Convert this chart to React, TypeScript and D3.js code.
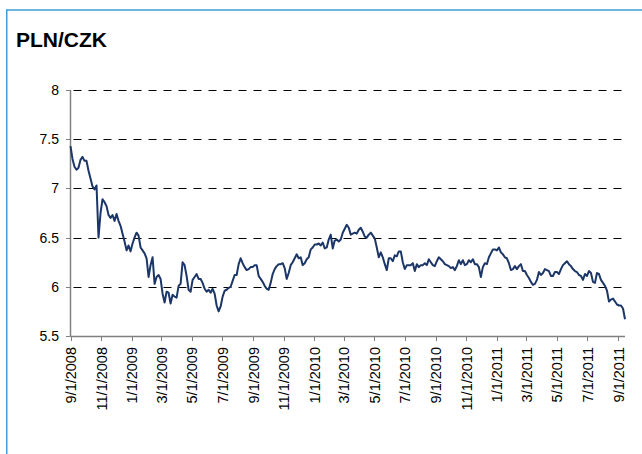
import React from "react";
import * as d3 from "d3";

const title = "PLN/CZK";
const startDate = "2008-09-01";
const endDate = "2011-09-14";
const stepDays = 4;
const values = [
  7.43, 7.30, 7.22, 7.19, 7.21, 7.29, 7.32, 7.28, 7.28, 7.18,
  7.10, 7.02, 6.99, 7.03, 6.50, 6.75, 6.89, 6.86, 6.82, 6.73,
  6.70, 6.73, 6.67, 6.74, 6.67, 6.62, 6.54, 6.46, 6.37, 6.42,
  6.36, 6.44, 6.50, 6.55, 6.52, 6.40, 6.37, 6.34, 6.29, 6.10,
  6.22, 6.30, 6.03, 6.10, 6.12, 6.08, 5.93, 5.84, 5.95, 5.94,
  5.83, 5.92, 5.90, 5.89, 6.01, 6.03, 6.25, 6.22, 6.11, 5.97,
  5.95, 6.07, 6.10, 6.13, 6.08, 6.08, 6.04, 5.98, 5.95, 5.97,
  5.94, 5.98, 5.93, 5.81, 5.75, 5.80, 5.90, 5.96, 5.97, 5.99,
  6.00, 6.06, 6.12, 6.12, 6.23, 6.29, 6.24, 6.20, 6.17, 6.18,
  6.20, 6.20, 6.22, 6.22, 6.11, 6.08, 6.05, 6.01, 5.98, 5.97,
  6.04, 6.13, 6.18, 6.21, 6.23, 6.23, 6.24, 6.19, 6.08, 6.14,
  6.22, 6.25, 6.29, 6.33, 6.29, 6.30, 6.22, 6.24, 6.28, 6.30,
  6.38, 6.40, 6.43, 6.43, 6.44, 6.42, 6.45, 6.39, 6.40, 6.48,
  6.53, 6.39, 6.47, 6.48, 6.46, 6.48, 6.55, 6.59, 6.63, 6.60,
  6.53, 6.54, 6.55, 6.54, 6.58, 6.60, 6.56, 6.51, 6.50, 6.53,
  6.55, 6.52, 6.49, 6.40, 6.30, 6.35, 6.30, 6.23, 6.17, 6.29,
  6.29, 6.26, 6.32, 6.31, 6.36, 6.36, 6.25, 6.18, 6.22, 6.22,
  6.22, 6.24, 6.16, 6.23, 6.20, 6.22, 6.22, 6.24, 6.22, 6.28,
  6.25, 6.22, 6.21, 6.26, 6.30, 6.28, 6.26, 6.23, 6.22, 6.21,
  6.19, 6.20, 6.17, 6.21, 6.27, 6.23, 6.27, 6.22, 6.23, 6.27,
  6.25, 6.28, 6.23, 6.23, 6.20, 6.10, 6.20, 6.24, 6.23, 6.30,
  6.34, 6.38, 6.38, 6.37, 6.40, 6.35, 6.33, 6.30, 6.29, 6.24,
  6.17, 6.18, 6.21, 6.18, 6.21, 6.23, 6.16, 6.16, 6.12, 6.09,
  6.05, 6.02, 6.03, 6.07, 6.15, 6.12, 6.14, 6.18, 6.17, 6.16,
  6.11, 6.11, 6.15, 6.15, 6.13, 6.18, 6.22, 6.24, 6.26, 6.23,
  6.21, 6.18, 6.16, 6.15, 6.12, 6.11, 6.07, 6.13, 6.11, 6.16,
  6.14, 6.05, 6.04, 6.14, 6.13, 6.07, 6.04, 6.01, 5.96, 5.85,
  5.87, 5.88, 5.85, 5.82, 5.81, 5.81, 5.78, 5.67,
];
const xTickLabels = [
  "9/1/2008", "11/1/2008", "1/1/2009", "3/1/2009", "5/1/2009", "7/1/2009",
  "9/1/2009", "11/1/2009", "1/1/2010", "3/1/2010", "5/1/2010", "7/1/2010",
  "9/1/2010", "11/1/2010", "1/1/2011", "3/1/2011", "5/1/2011", "7/1/2011",
  "9/1/2011",
];
const yTicks = [5.5, 6, 6.5, 7, 7.5, 8];
const yTickLabels = ["5.5", "6", "6.5", "7", "7.5", "8"];

const parseIso = d3.timeParse("%Y-%m-%d");
const parseUS = d3.timeParse("%m/%d/%Y");
const FONT = "'Liberation Sans', Arial, sans-serif";

export default function App() {
  const W = 642, H = 454;
  const left = 70.5, right = 625, top = 90, bottom = 336;
  const start = parseIso(startDate)!;
  const end = parseIso(endDate)!;
  const x = d3.scaleTime().domain([start, end]).range([left, right]);
  const y = d3.scaleLinear().domain([5.5, 8]).range([bottom, top]);

  const data = values.map((v, i) => ({ date: d3.timeDay.offset(start, i * stepDays), v }));
  const line = d3
    .line<{ date: Date; v: number }>()
    .x((d) => x(d.date))
    .y((d) => y(d.v));

  const xTicks = xTickLabels.map((l) => ({ label: l, date: parseUS(l)! }));

  return (
    <svg
      width={W}
      height={H}
      style={{ position: "absolute", left: 0, top: 0, background: "#fff" }}
      fontFamily={FONT}
    >
      <rect x={0} y={0} width={W} height={H} fill="#fff" />
      <rect x={6.75} y={10} width={800} height={600} fill="none" stroke="#3d9fd6" strokeWidth={1.5} />
      <text x={16} y={47} fontSize={21} fontWeight="bold" fill="#000">
        {title}
      </text>

      {yTicks.slice(1).map((t) => (
        <line
          key={"g" + t}
          x1={left}
          x2={right}
          y1={Math.round(y(t)) + 0.5}
          y2={Math.round(y(t)) + 0.5}
          stroke="#000"
          strokeWidth={1}
          strokeDasharray="8 7"
          strokeDashoffset={-3}
        />
      ))}

      {yTicks.map((t, i) => (
        <g key={"y" + t}>
          <line x1={66} x2={left} y1={Math.round(y(t)) + 0.5} y2={Math.round(y(t)) + 0.5} stroke="#808080" strokeWidth={1} />
          <text x={59} y={y(t)} dy="0.35em" textAnchor="end" fontSize={14} fill="#000">
            {yTickLabels[i]}
          </text>
        </g>
      ))}

      {xTicks.map((t) => (
        <g key={t.label}>
          <line
            x1={Math.round(x(t.date)) + 0.5}
            x2={Math.round(x(t.date)) + 0.5}
            y1={bottom}
            y2={bottom + 5}
            stroke="#808080"
            strokeWidth={1}
          />
          <text
            transform={`translate(${x(t.date) + 5.5},347) rotate(-90)`}
            textAnchor="end"
            fontSize={14.5}
            fill="#000"
          >
            {t.label}
          </text>
        </g>
      ))}

      <line x1={left} x2={left} y1={top} y2={bottom + 0.5} stroke="#808080" strokeWidth={1.5} />
      <line x1={left} x2={right} y1={bottom + 0.5} y2={bottom + 0.5} stroke="#808080" strokeWidth={1.5} />

      <path d={line(data) || ""} fill="none" stroke="#1b3667" strokeWidth={2} strokeLinejoin="round" />
    </svg>
  );
}
